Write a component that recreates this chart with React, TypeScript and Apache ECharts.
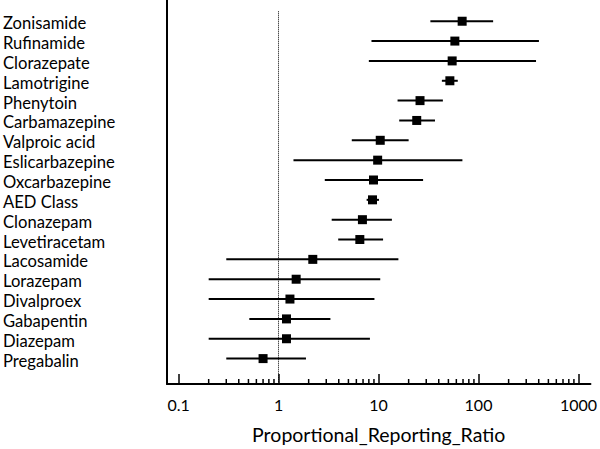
import React, { useEffect, useRef } from "react";
import * as echarts from "echarts";

const drugs = [
  "Zonisamide", "Rufinamide", "Clorazepate", "Lamotrigine", "Phenytoin",
  "Carbamazepine", "Valproic acid", "Eslicarbazepine", "Oxcarbazepine", "AED Class",
  "Clonazepam", "Levetiracetam", "Lacosamide", "Lorazepam", "Divalproex",
  "Gabapentin", "Diazepam", "Pregabalin",
];
const prr = [68.6, 58, 54.5, 51.7, 26, 24.1, 10.4, 9.8, 8.9, 8.7, 6.9, 6.5, 2.2, 1.5, 1.3, 1.2, 1.2, 0.7];
const lower = [33, 8.5, 8.0, 43, 15.5, 16.1, 5.4, 1.41, 2.9, 7.6, 3.4, 3.95, 0.3, 0.2, 0.2, 0.51, 0.2, 0.3];
const upper = [140, 402, 376, 62, 44, 36.7, 20, 69, 27.9, 10.1, 13.6, 11.1, 15.8, 10.4, 9.1, 3.3, 8.2, 1.88];
const majorTicks = [0.1, 1, 10, 100, 1000];
const minorTicks: number[] = [];
[0.1, 1, 10, 100].forEach((d) => {
  for (let k = 2; k <= 9; k++) minorTicks.push(+(d * k).toPrecision(3));
});
const rowIdx = drugs.map((_, i) => i);
const FONT = "Lato";

export default function App() {
  const ref = useRef<HTMLDivElement>(null);
  useEffect(() => {
    const chart = echarts.init(ref.current!, undefined, { renderer: "svg" });
    const xMin = 0.0766, xMax = 1316;
    chart.setOption({
      animation: false,
      grid: { left: 165, right: 9, top: 0, bottom: 64 },
      xAxis: {
        type: "log",
        logBase: 10,
        min: xMin,
        max: xMax,
        name: "Proportional_Reporting_Ratio",
        nameLocation: "middle",
        nameGap: 40,
        nameTextStyle: { color: "#000", fontFamily: FONT, fontSize: 19.5 },
        axisLine: { show: true, onZero: false, lineStyle: { color: "#000", width: 2 } },
        axisTick: { show: true, inside: true, length: 10, customValues: majorTicks, lineStyle: { color: "#000", width: 1.5 } },
        axisLabel: {
          customValues: majorTicks,
          margin: 12,
          color: "#000",
          fontFamily: FONT,
          fontSize: 16,
          formatter: (v: number) => String(+v.toPrecision(3)),
        },
        splitLine: { show: false },
        minorTick: { show: false },
      },
      yAxis: {
        type: "value",
        inverse: true,
        min: -1.07,
        max: 18.28,
        axisLine: { show: true, onZero: false, lineStyle: { color: "#000", width: 2 } },
        axisTick: { show: false },
        splitLine: { show: false },
        axisLabel: {
          customValues: rowIdx,
          align: "left",
          margin: 164,
          color: "#000",
          fontFamily: FONT,
          fontSize: 16.6,
          formatter: (v: number) => {
            const n = drugs[Math.round(v)];
            return n ? `{d|${n}}` : "";
          },
          rich: {
            d: { color: "#000", fontFamily: FONT, fontSize: 16.6, padding: [4, 0, 0, 0] },
          },
        },
      },
      series: [
        {
          type: "custom",
          data: minorTicks.map((v) => [v, 0]),
          renderItem: (params: any, api: any) => {
            const p = api.coord([api.value(0), 0]);
            const yb = params.coordSys.y + params.coordSys.height;
            return {
              type: "line",
              shape: { x1: p[0], y1: yb, x2: p[0], y2: yb - 5 },
              style: { stroke: "#000", lineWidth: 1.5 },
            };
          },
          encode: { x: 0, y: 1 },
          silent: true,
          z: 1,
        },
        {
          type: "custom",
          data: rowIdx.map((i) => [lower[i], upper[i], i]),
          renderItem: (params: any, api: any) => {
            const a = api.coord([api.value(0), api.value(2)]);
            const b = api.coord([api.value(1), api.value(2)]);
            return {
              type: "line",
              shape: { x1: a[0], y1: a[1], x2: b[0], y2: b[1] },
              style: { stroke: "#000", lineWidth: 2 },
            };
          },
          encode: { x: [0, 1], y: 2 },
          z: 2,
        },
        {
          type: "scatter",
          symbol: "rect",
          symbolSize: 9,
          itemStyle: { color: "#000", opacity: 1 },
          data: rowIdx.map((i) => [prr[i], i]),
          z: 3,
          markLine: {
            silent: true,
            symbol: "none",
            label: { show: false },
            lineStyle: { color: "#000", type: "dotted", width: 1, opacity: 1 },
            data: [[{ coord: [1, -0.5] }, { coord: [1, 18.28] }]],
          },
        },
      ],
    });
    return () => chart.dispose();
  }, []);
  return <div ref={ref} style={{ width: 600, height: 449, position: "absolute", left: 0, top: 0 }} />;
}
